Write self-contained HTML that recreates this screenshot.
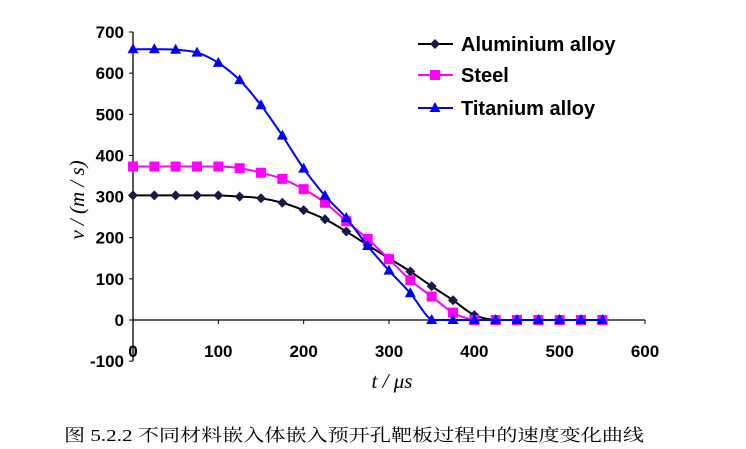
<!DOCTYPE html>
<html><head><meta charset="utf-8"><style>
html,body{margin:0;padding:0;background:#fff;}
svg{display:block;}
</style></head><body>
<svg id="chart" width="746" height="449" xmlns="http://www.w3.org/2000/svg">
<g id="axes"></g>
<g id="series"></g>
<g id="legend"></g>
<text transform="translate(84,200) rotate(-90)" text-anchor="middle" font-family="Liberation Serif, serif" font-style="italic" font-size="21">v / (m / s)</text>
<text x="392" y="388" text-anchor="middle" font-family="Liberation Serif, serif" font-style="italic" font-size="21">t / μs</text>
<text x="64" y="441" textLength="580" lengthAdjust="spacingAndGlyphs" font-family="Liberation Serif, 'Noto Serif CJK SC', serif" font-size="17">图 5.2.2 不同材料嵌入体嵌入预开孔靶板过程中的速度变化曲线</text>
</svg>
<script>
const times=[0,25,50,75,100,125,150,175,200,225,250,275,300,325,350,375,400,425,450,475,500,525,550];
const aluminium=[303,303,303,303,303,300,296,285,267,245,215,182,150,118,82,48,12,0,0,0,0,0,0];
const steel=[373,373,373,373,373,369,358,343,318,285,240,197,148,97,57,18,0,0,0,0,0,0,0];
const titanium=[658,658,657,650,625,583,522,448,368,302,248,180,120,65,0,0,0,0,0,0,0,0,0];
const xTicks=[0,100,200,300,400,500,600];
const yTicks=[-100,0,100,200,300,400,500,600,700];
const seriesNames=["Aluminium alloy","Steel","Titanium alloy"];
const NS="http://www.w3.org/2000/svg";
function X(t){return 133+(t-0)*(645-133)/600;}
function Y(v){return 320-v*(320-32)/700;}
function mk(tag,attrs,parent){const e=document.createElementNS(NS,tag);for(const k in attrs)e.setAttribute(k,attrs[k]);parent.appendChild(e);return e;}
const axes=document.getElementById('axes');
let yl=mk('line',{x1:X(0),x2:X(0),y1:Y(700),y2:Y(-100),stroke:'#000','stroke-width':1.3},axes);


let xl=mk('line',{x1:X(0),x2:X(600),y1:Y(0),y2:Y(0),stroke:'#000','stroke-width':1.3},axes);


yTicks.forEach(v=>{
 let tk=mk('line',{x1:X(0)-4,x2:X(0),y1:Y(v),y2:Y(v),stroke:'#000'},axes);
 
 
 let t=mk('text',{x:X(0)-9,y:Y(v)+6,'text-anchor':'end','font-family':'Liberation Sans, sans-serif','font-weight':'bold','font-size':17},axes);
 t.textContent=v;
 
 
});
xTicks.forEach(v=>{
 let tk=mk('line',{x1:X(v),x2:X(v),y1:Y(0),y2:Y(0)+4,stroke:'#000'},axes);
 
 
 let t=mk('text',{x:X(v),y:Y(0)+37,'text-anchor':'middle','font-family':'Liberation Sans, sans-serif','font-weight':'bold','font-size':17},axes);
 t.textContent=v;
 
 
});
function clamp(v,a,b){const lo=Math.min(a,b),hi=Math.max(a,b);return Math.max(lo,Math.min(hi,v));}
function smooth(pts){
 let d='M'+pts[0][0]+','+pts[0][1];
 for(let i=0;i<pts.length-1;i++){
  const p0=pts[Math.max(0,i-1)],p1=pts[i],p2=pts[i+1],p3=pts[Math.min(pts.length-1,i+2)];
  const c1=[p1[0]+(p2[0]-p0[0])/6,clamp(p1[1]+(p2[1]-p0[1])/6,p1[1],p2[1])];
  const c2=[p2[0]-(p3[0]-p1[0])/6,clamp(p2[1]-(p3[1]-p1[1])/6,p1[1],p2[1])];
  d+=' C'+c1[0]+','+c1[1]+' '+c2[0]+','+c2[1]+' '+p2[0]+','+p2[1];
 }
 return d;
}
function marker(kind,x,y,color,parent){
 let m;
 if(kind==='diamond') m=mk('polygon',{points:`${x},${y-5} ${x+5},${y} ${x},${y+5} ${x-5},${y}`,fill:color},parent);
 else if(kind==='square') m=mk('rect',{x:x-5,y:y-5,width:10,height:10,fill:color},parent);
 else m=mk('polygon',{points:`${x},${y-6} ${x+5.5},${y+4} ${x-5.5},${y+4}`,fill:color},parent);
 return m;
}
const sg=document.getElementById('series');
const defs=[{data:aluminium,color:'#1a1a4a',kind:'diamond',name:'aluminium'},{data:steel,color:'#ff00ff',kind:'square',name:'steel'},{data:titanium,color:'#0000ff',kind:'triangle',name:'titanium'}];
defs.forEach(s=>{
 const g=mk('g',{},sg);
 
 
 const pts=times.map((t,i)=>[X(t),Y(s.data[i])]);
 const p=mk('path',{d:smooth(pts),fill:'none',stroke:s.kind==='diamond'?'#000':s.color,'stroke-width':2},g);
 
 
 pts.forEach(pt=>{
  const m=marker(s.kind,pt[0],pt[1],s.color,g);
  
  
 });
});
const lg=document.getElementById('legend');
const ly=[44,75,108];
defs.forEach((s,i)=>{
 const g=mk('g',{},lg);
 
 
 mk('line',{x1:418,x2:453,y1:ly[i],y2:ly[i],stroke:s.kind==='diamond'?'#000':s.color,'stroke-width':2},g);
 marker(s.kind,435,ly[i],s.color,g);
 const t=mk('text',{x:461,y:ly[i]+7,'font-family':'Liberation Sans, sans-serif','font-weight':'bold','font-size':20},g);
 t.textContent=seriesNames[i];
});
</script>
</body></html>
